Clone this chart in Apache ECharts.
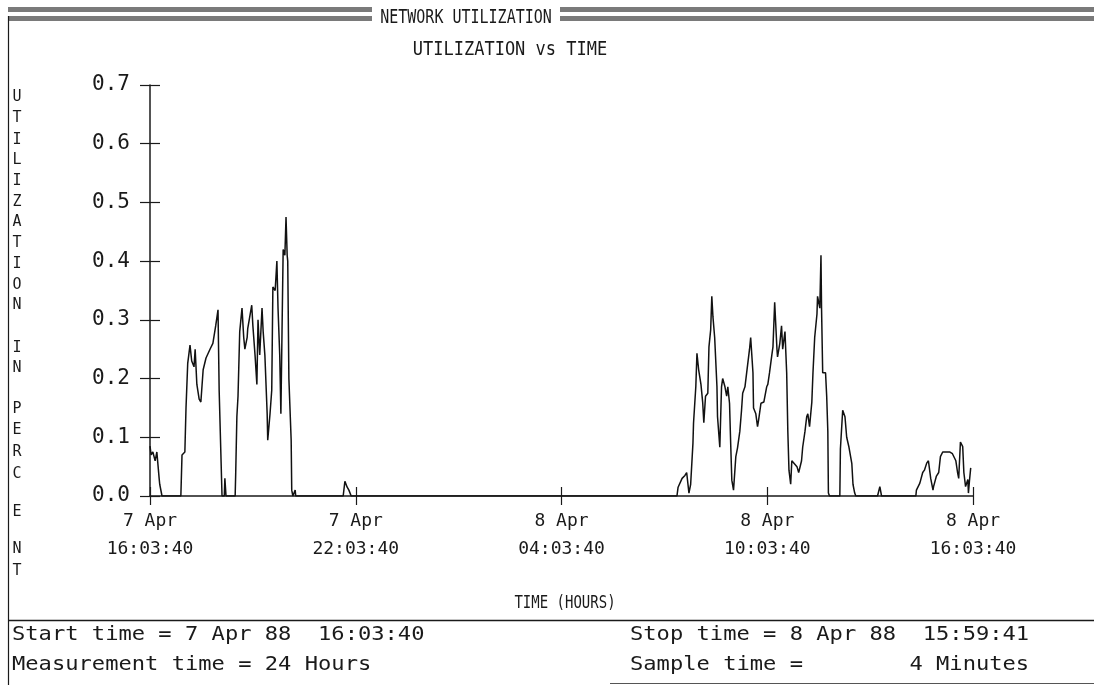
<!DOCTYPE html>
<html>
<head>
<meta charset="utf-8">
<title>Network Utilization</title>
<script src="https://cdn.jsdelivr.net/npm/echarts@6/dist/echarts.min.js"></script>
<style>
  html, body { margin: 0; padding: 0; background: #ffffff; }
  #chart { width: 1094px; height: 685px; }
</style>
</head>
<body>
<div id="chart"></div>
<script>
// Minutes after the start time (7 Apr 88 16:03:40), one entry per breakpoint of the trace
const minutes = [
  0, 2, 5, 9, 12, 16, 17, 21,
  54, 56, 61, 63, 66, 70, 73, 77, 79, 82, 86, 89, 93, 98, 105, 110, 115, 119, 121, 124, 126,
  130, 131, 133,
  149, 150, 152, 154, 157, 161, 164, 166, 170, 171, 178, 180, 184, 187, 189, 192, 196, 198,
  201, 205, 206, 210, 213, 215, 219, 222, 224, 227, 229, 231, 233, 236, 238, 240, 241, 243,
  247, 248, 250, 254, 255,
  338, 341, 345, 348, 352,
  922, 924, 931, 936, 939, 943, 946, 950, 951, 955, 957, 960, 964, 967, 969, 972, 976, 978,
  981, 983, 985, 988, 992, 993, 997, 1000, 1002, 1006, 1009, 1011, 1014, 1016, 1018, 1021,
  1025, 1028, 1032, 1035, 1037, 1041, 1044, 1046, 1049, 1051, 1055, 1056, 1060, 1063, 1065,
  1069, 1074, 1079, 1081, 1084, 1088, 1090, 1093, 1097, 1098, 1102, 1105, 1107, 1111, 1114,
  1116, 1118, 1121, 1123, 1126, 1132, 1135, 1140, 1142, 1146, 1149, 1151, 1154, 1158, 1160,
  1163, 1167, 1168, 1172, 1174, 1175, 1177, 1182, 1184, 1186, 1187, 1189,
  1207, 1208, 1212, 1216, 1219, 1223, 1228, 1230, 1233, 1235,
  1273, 1277, 1280,
  1340, 1341, 1347, 1352, 1355, 1359, 1362, 1366, 1370, 1371, 1376, 1380, 1383, 1387, 1394,
  1399, 1404, 1410, 1413, 1415, 1418, 1422, 1424, 1427, 1431, 1432, 1434, 1436
];

// Utilization (fraction) at each breakpoint above
const utilization = [
  0.085, 0.07, 0.075, 0.06, 0.075, 0.03, 0.02, 0,
  0, 0.07, 0.075, 0.15, 0.226, 0.257, 0.23, 0.22, 0.25, 0.19, 0.165, 0.16, 0.215, 0.235, 0.25, 0.26, 0.29, 0.317, 0.18, 0.18, 0,
  0, 0.03, 0,
  0, 0.04, 0.135, 0.17, 0.28, 0.32, 0.27, 0.25, 0.27, 0.285, 0.325, 0.29, 0.237, 0.19, 0.30, 0.24, 0.32, 0.28,
  0.24, 0.14, 0.095, 0.14, 0.18, 0.356, 0.35, 0.40, 0.32, 0.24, 0.14, 0.28, 0.42, 0.41, 0.475, 0.41, 0.40, 0.20,
  0.095, 0.01, 0, 0.01, 0,
  0, 0.025, 0.015, 0.01, 0,
  0, 0.015, 0.03, 0.035, 0.04, 0.005, 0.02, 0.09, 0.124, 0.186, 0.243, 0.215, 0.19, 0.16, 0.125, 0.17, 0.175, 0.254,
  0.283, 0.34, 0.305, 0.27, 0.186, 0.135, 0.083, 0.186, 0.2, 0.186, 0.17, 0.186, 0.158, 0.09, 0.027, 0.01,
  0.067, 0.082, 0.11, 0.146, 0.175, 0.186, 0.21, 0.21, 0.25, 0.27, 0.21, 0.15, 0.14, 0.118, 0.13,
  0.158, 0.16, 0.186, 0.19, 0.21, 0.24, 0.254, 0.33, 0.25, 0.237, 0.26, 0.29, 0.25, 0.28, 0.21,
  0.11, 0.044, 0.02, 0.06, 0.057, 0.05, 0.04, 0.06, 0.083, 0.11, 0.135, 0.14, 0.118, 0.16, 0.21,
  0.27, 0.31, 0.34, 0.32, 0.41, 0.32, 0.21, 0.21, 0.17, 0.11, 0.005, 0,
  0, 0.08, 0.146, 0.135, 0.1, 0.083, 0.055, 0.02, 0.005, 0,
  0, 0.016, 0,
  0, 0.01, 0.022, 0.04, 0.044, 0.056, 0.06, 0.03, 0.01, 0.016, 0.034, 0.04, 0.067, 0.075, 0.075,
  0.075, 0.072, 0.06, 0.04, 0.03, 0.092, 0.084, 0.04, 0.016, 0.028, 0.005, 0.028, 0.048
];

// Time-axis tick labels, one per six hours
const tickDays  = ['7 Apr', '7 Apr', '8 Apr', '8 Apr', '8 Apr'];
const tickTimes = ['16:03:40', '22:03:40', '04:03:40', '10:03:40', '16:03:40'];

// Vertical y-axis caption: letters and their row positions
const yCaptionLetters = ['U','T','I','L','I','Z','A','T','I','O','N','I','N','P','E','R','C','E','N','T'];
const yCaptionRows    = [97,118,140,160,181,202,222,243,264,285,305,348,368,409,430,452,474,512,549,571];

const mainTitle = 'NETWORK UTILIZATION';
const subTitle = 'UTILIZATION vs TIME';
const xAxisTitle = 'TIME (HOURS)';
const footerLeft = ['Start time = 7 Apr 88  16:03:40', 'Measurement time = 24 Hours'];
const footerRight = ['Stop time = 8 Apr 88  15:59:41', 'Sample time =        4 Minutes'];

const MONO = '"DejaVu Sans Mono", "Liberation Mono", monospace';
const INK = '#1a1a1a';

const series = minutes.map((m, i) => [m, utilization[i]]);

const chart = echarts.init(document.getElementById('chart'), null, { renderer: 'canvas' });

function txt(x, y, text, size, opts) {
  opts = opts || {};
  return {
    type: 'text',
    x: x, y: y,
    scaleX: opts.sx || 1, scaleY: opts.sy || 1,
    silent: true,
    z: 10,
    style: {
      text: text,
      x: 0, y: 0,
      font: size + 'px ' + MONO,
      fill: INK,
      textAlign: opts.align || 'left',
      textVerticalAlign: 'middle'
    }
  };
}

const graphics = [];
// header bands on either side of the title
[[8, 372], [560, 1094]].forEach(([a, b]) => {
  graphics.push({ type: 'rect', silent: true, shape: { x: a, y: 7, width: b - a, height: 5 }, style: { fill: '#7a7a7a' } });
  graphics.push({ type: 'rect', silent: true, shape: { x: a, y: 16, width: b - a, height: 5 }, style: { fill: '#7a7a7a' } });
});
// frame lines
graphics.push({ type: 'line', silent: true, shape: { x1: 8.5, y1: 16, x2: 8.5, y2: 685 }, style: { stroke: INK, lineWidth: 1.2 } });
graphics.push({ type: 'line', silent: true, shape: { x1: 8, y1: 620.5, x2: 1094, y2: 620.5 }, style: { stroke: INK, lineWidth: 1.5 } });
graphics.push({ type: 'line', silent: true, shape: { x1: 610, y1: 683.5, x2: 1094, y2: 683.5 }, style: { stroke: '#555', lineWidth: 1 } });

// titles
graphics.push(txt(466, 18, mainTitle, 15, { align: 'center', sy: 1.25 }));
graphics.push(txt(510, 50, subTitle, 17, { align: 'center', sy: 1.15 }));
graphics.push(txt(565, 604, xAxisTitle, 14, { align: 'center', sy: 1.2 }));

// vertical y-axis caption, one letter per row
yCaptionLetters.forEach((ch, i) => {
  graphics.push(txt(17, yCaptionRows[i], ch, 15, { align: 'center', sy: 1.1 }));
});

// footer information block
footerLeft.forEach((t, i) => graphics.push(txt(12, 635 + i * 30, t, 17, { sx: 1.3, sy: 1.1 })));
footerRight.forEach((t, i) => graphics.push(txt(630, 635 + i * 30, t, 17, { sx: 1.3, sy: 1.1 })));

const option = {
  backgroundColor: '#ffffff',
  animation: false,
  grid: { left: 150, right: 121, top: 85, bottom: 189, containLabel: false },
  xAxis: [
    {
      type: 'value', min: 0, max: 1440, interval: 360,
      axisLine: { show: true, lineStyle: { color: INK, width: 1.5 } },
      axisTick: { show: true, length: 9, lineStyle: { color: INK, width: 1.2 } },
      splitLine: { show: false },
      axisLabel: {
        margin: 11,
        color: INK,
        fontFamily: MONO,
        fontSize: 18,
        lineHeight: 28,
        formatter: (v) => {
          const k = Math.round(v / 360);
          return tickDays[k] + '\n' + tickTimes[k];
        }
      }
    },
    {
      type: 'value', min: 0, max: 1440, interval: 360, position: 'bottom',
      axisLine: { show: false },
      axisTick: { show: true, inside: true, length: 9, lineStyle: { color: INK, width: 1.2 } },
      axisLabel: { show: false },
      splitLine: { show: false }
    }
  ],
  yAxis: [
    {
      type: 'value', min: 0, max: 0.7, interval: 0.1,
      axisLine: { show: true, lineStyle: { color: INK, width: 1.5 } },
      axisTick: { show: true, length: 10, lineStyle: { color: INK, width: 1.2 } },
      splitLine: { show: false },
      axisLabel: {
        margin: 20,
        color: INK,
        fontFamily: MONO,
        fontSize: 21,
        formatter: (v) => v.toFixed(1)
      }
    },
    {
      type: 'value', min: 0, max: 0.7, interval: 0.1, position: 'left',
      axisLine: { show: false },
      axisTick: { show: true, inside: true, length: 10, lineStyle: { color: INK, width: 1.2 } },
      axisLabel: { show: false },
      splitLine: { show: false }
    }
  ],
  series: [
    {
      type: 'line',
      xAxisIndex: 0, yAxisIndex: 0,
      data: series,
      showSymbol: false,
      symbol: 'none',
      lineStyle: { color: '#111111', width: 1.5 },
      z: 5
    }
  ],
  graphic: graphics
};

chart.setOption(option);
</script>
</body>
</html>
